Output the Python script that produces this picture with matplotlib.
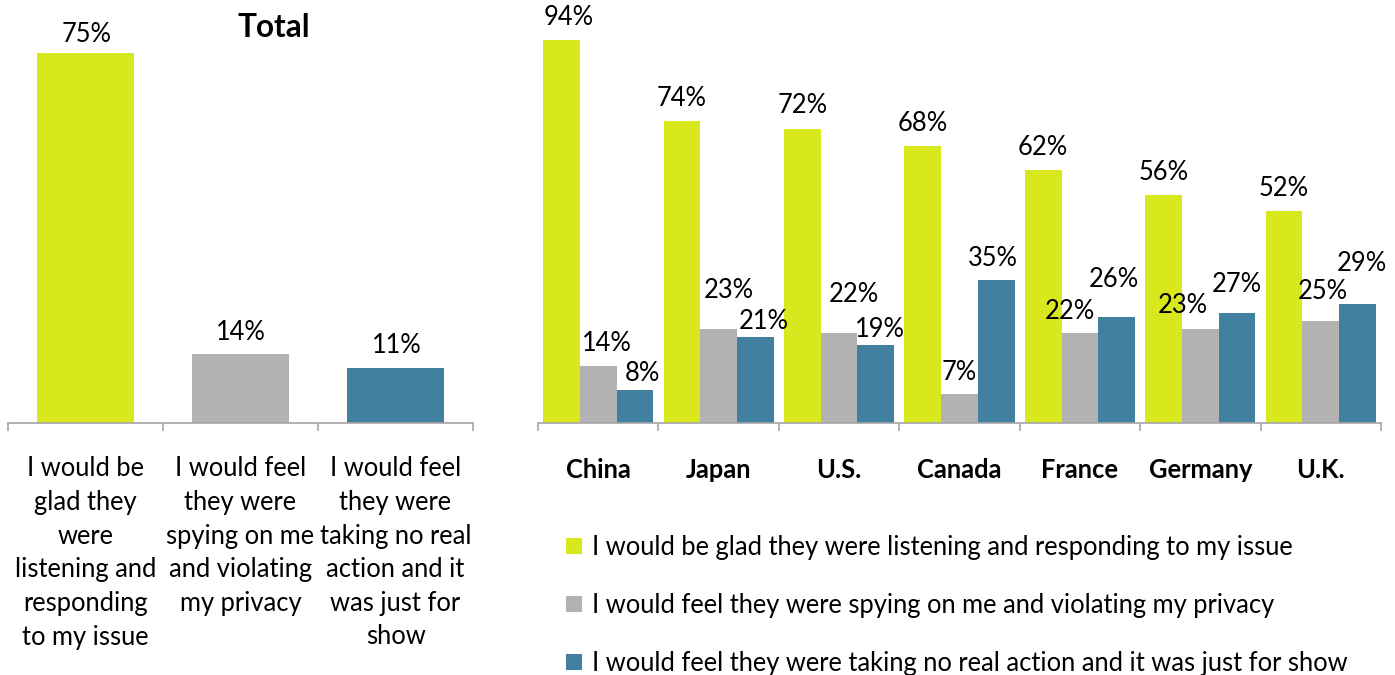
import numpy as np
import matplotlib.pyplot as plt
from matplotlib.patches import Patch

plt.rcParams['font.family'] = ['Lato', 'DejaVu Sans']

# answers
answers = ["I would be glad they were listening and responding to my issue",
           "I would feel they were spying on me and violating my privacy",
           "I would feel they were taking no real action and it was just for show"]
answers_wrapped = ["I would be\nglad they\nwere\nlistening and\nresponding\nto my issue",
                   "I would feel\nthey were\nspying on me\nand violating\nmy privacy",
                   "I would feel\nthey were\ntaking no real\naction and it\nwas just for\nshow"]
total = [75, 14, 11]

countries = ["China", "Japan", "U.S.", "Canada", "France", "Germany", "U.K."]
glad = [94, 74, 72, 68, 62, 56, 52]
spying = [14, 23, 22, 7, 22, 23, 25]
no_action = [8, 21, 19, 35, 26, 27, 29]

colors = ['#d9e81c', '#b2b2b2', '#41809f']
axis_col = '#a6a6a6'
fs = 18.4

W, H = 1395, 675
fig = plt.figure(figsize=(W / 100, H / 100), dpi=100)

base = 422.5
# left panel: total
axL = fig.add_axes([8 / W, (H - base) / H, 465 / W, 80 * 4.92 / H])
x = np.arange(3)
axL.bar(x, total, width=0.62, color=colors)
axL.set_xlim(-0.5, 2.5)
axL.set_ylim(0, 80)

# label offsets in pixels (dx, dy above bar top)
offL = [(1, 21), (0, 23), (1, 24)]
for xi, v, (dx, dy) in zip(x, total, offL):
    axL.annotate(f"{v}%", (xi, v), xytext=(dx, dy - 9), textcoords='offset pixels',
                 ha='center', va='baseline', fontsize=fs, color='black')

# right panel: by country
axR = fig.add_axes([538 / W, (H - base) / H, 843 / W, 100 * 4.07 / H])
xc = np.arange(len(countries))
bw = 0.305
series = [glad, spying, no_action]
offsets = [
    [(7, 24), (0, 24.5), (0, 25), (0, 24), (0, 24), (0, 24), (0, 24)],
    [(9, 24), (10, 40), (15, 40), (0, 23), (-10, 23), (-18, 25), (2, 31)],
    [(7, 18), (8, 17), (4, 17), (-3, 23), (-3, 39), (0, 30), (4, 42)],
]
for i, (vals, col, offs) in enumerate(zip(series, colors, offsets)):
    pos = xc + (i - 1) * bw
    axR.bar(pos, vals, width=bw, color=col)
    for p, v, (dx, dy) in zip(pos, vals, offs):
        axR.annotate(f"{v}%", (p, v), xytext=(dx, dy - 9), textcoords='offset pixels',
                     ha='center', va='baseline', fontsize=fs, color='black')
axR.set_xlim(-0.5, len(countries) - 0.5)
axR.set_ylim(0, 100)

for ax, n in ((axL, 3), (axR, len(countries))):
    for s in ('top', 'right', 'left'):
        ax.spines[s].set_visible(False)
    ax.spines['bottom'].set_color(axis_col)
    ax.spines['bottom'].set_linewidth(1.2)
    ax.set_yticks([])
    ax.set_xticks(np.arange(-0.5, n, 1.0), minor=True)
    ax.tick_params(axis='x', which='minor', length=8 * 0.72, width=1.2, color=axis_col)
    ax.tick_params(axis='x', which='major', length=0)

axL.set_xticks(x)
axL.set_xticklabels(answers_wrapped, fontsize=fs, linespacing=1.43, ha='center')
axL.tick_params(axis='x', which='major', pad=34 * 0.72)

axR.set_xticks(xc)
axR.set_xticklabels(countries, fontsize=fs, fontweight='bold')
axR.tick_params(axis='x', which='major', pad=35 * 0.72)

fig.text(274 / W, 1 - 37 / H, "Total", ha='center', va='baseline',
         fontsize=22.7, fontweight='bold')

handles = [Patch(facecolor=c, edgecolor='none') for c in colors]
fig.legend(handles, answers, loc='upper left', bbox_to_anchor=(566 / W, 1 - 535 / H),
           frameon=False, fontsize=fs, handlelength=0.625, handleheight=0.59,
           handletextpad=0.39, labelspacing=1.3, borderpad=0, borderaxespad=0)

fig.savefig('out.png', dpi=100)
